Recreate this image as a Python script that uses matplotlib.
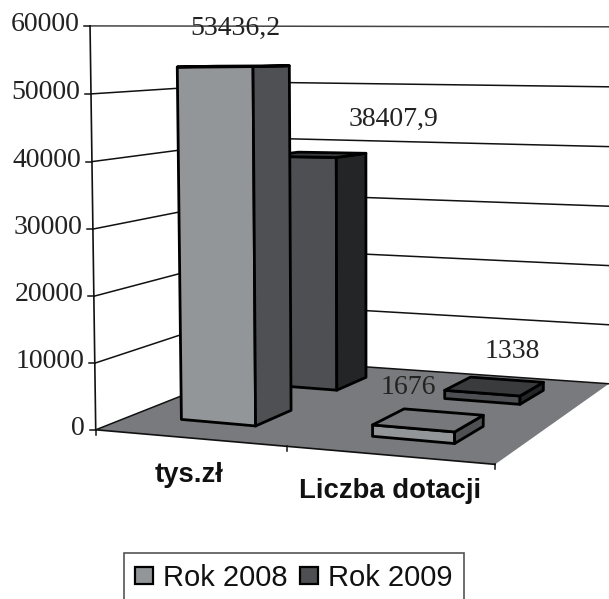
import numpy as np
import matplotlib
matplotlib.use("Agg")
import matplotlib.pyplot as plt
from matplotlib.patches import Polygon

# ---- data ----
categories = ["tys.zł", "Liczba dotacji"]
series_names = ["Rok 2008", "Rok 2009"]
values_2008 = [53436.2, 1676]
values_2009 = [38407.9, 1338]
labels_2008 = ["53436,2", "1676"]
labels_2009 = ["38407,9", "1338"]
y_ticks = [0, 10000, 20000, 30000, 40000, 50000, 60000]
y_max = 60000

# ---- cameras: (across, depth, value) -> pixel, fitted by least squares ----
wall_refs = [
    (0, 0, 0, 97, 429), (1, 0, 0, 497, 463), (0, 1, 0, 270, 360), (1, 1, 0, 609, 385),
    (0, 0, 60000, 89.5, 27), (0, 1, 60000, 270, 27), (1, 1, 60000, 609, 27),
    (0, 0, 50000, 90, 94), (0, 1, 50000, 270, 81), (1, 1, 50000, 609, 85),
    (0, 0, 40000, 91, 162), (0, 1, 40000, 270, 137.5), (1, 1, 40000, 609, 146.7),
    (0, 0, 30000, 92.5, 229), (0, 1, 30000, 270, 194.4), (1, 1, 30000, 609, 207),
    (0, 0, 20000, 93.5, 297), (1, 1, 20000, 609, 266),
    (0, 0, 10000, 95, 363), (0, 1, 10000, 270, 305.4), (1, 1, 10000, 609, 325),
]
bar_refs = [
    (0.134, 0.165, 0, 182, 419.5), (0.334, 0.165, 0, 255.5, 425.7), (0.334, 0.365, 0, 291, 410.7),
    (0.334, 0.65, 0, 337, 390.5), (0.334, 0.85, 0, 366, 378),
    (0.634, 0.165, 0, 371, 436), (0.834, 0.165, 0, 456, 443.3), (0.834, 0.365, 0, 483, 426),
    (0.634, 0.65, 0, 445, 397), (0.834, 0.65, 0, 521, 404.5), (0.834, 0.85, 0, 542, 391),
    (0.134, 0.165, 53436, 177, 66), (0.334, 0.165, 53436, 253.5, 68), (0.334, 0.365, 53436, 288.5, 66),
    (0.334, 0.65, 38408, 337, 157), (0.334, 0.85, 38408, 366, 153),
    (0.634, 0.165, 1676, 371, 425), (0.834, 0.165, 1676, 456, 432.7), (0.834, 0.365, 1676, 483, 415),
]


def fit_camera(refs):
    A, b = [], []
    for u, d, val, px, py in refs:
        w = val / y_max
        A.append([u, d, w, 1, 0, 0, 0, 0, -px * u, -px * d, -px * w]); b.append(px)
        A.append([0, 0, 0, 0, u, d, w, 1, -py * u, -py * d, -py * w]); b.append(py)
    p = np.linalg.lstsq(np.array(A, float), np.array(b, float), rcond=None)[0]
    return np.append(p, 1).reshape(3, 4)


WALL_CAM = fit_camera(wall_refs)
BAR_CAM = fit_camera(bar_refs)


def project(u, d, val, cam=WALL_CAM):
    q = cam @ np.array([u, d, val / y_max, 1.0])
    return q[0] / q[2], q[1] / q[2]


# bar footprint on the floor
bar_left = [0.134, 0.634]
bar_width = 0.2
depth_front = {"Rok 2008": 0.165, "Rok 2009": 0.65}
bar_depth = 0.2

colors = {
    "Rok 2008": dict(front="#939699", side="#4f5053", top="#77787b"),
    "Rok 2009": dict(front="#4e4f52", side="#242526", top="#3a3b3d"),
}

fig = plt.figure(figsize=(6.09, 5.99), dpi=100)
ax = fig.add_axes([0, 0, 1, 1])
ax.set_xlim(0, 609)
ax.set_ylim(599, 0)
ax.axis("off")

SERIF = "Liberation Serif"
SANS = "Liberation Sans"
LINE = "#111111"

# floor
ax.add_patch(Polygon([project(0, 0, 0), project(1, 0, 0), project(1, 1, 0), project(0, 1, 0)],
                     closed=True, fc="#797a7d", ec="none", zorder=1))
ax.plot(*zip(project(0, 0, 0), project(1, 0, 0)), color=LINE, lw=1.2, zorder=2)

# gridlines on both walls, axis, ticks and tick labels
for t in y_ticks:
    pts = [project(0, 0, t), project(0, 1, t), project(1, 1, t)]
    ax.plot(*zip(*pts), color="#444444" if t == y_max else LINE, lw=1.1, zorder=2)
    x0, y0 = pts[0]
    ax.plot([x0 - 6, x0], [y0, y0], color=LINE, lw=1.1, zorder=2)
    ax.text(x0 - 10.5, y0 - 1.5, str(t), family=SERIF, fontsize=20, color="#222222",
            ha="right", va="center", zorder=6)
ax.plot(*zip(project(0, 0, 0), project(0, 0, y_max)), color=LINE, lw=1.2, zorder=2)

# category ticks
for u in [0, 0.5, 1]:
    x0, y0 = project(u, 0, 0)
    ax.plot([x0, x0], [y0, y0 + 5], color=LINE, lw=1.1, zorder=2)


def draw_bar(u0, d0, value, name, z):
    c = colors[name]
    u1, d1 = u0 + bar_width, d0 + bar_depth
    P = lambda u, d, v: project(u, d, v, BAR_CAM)
    faces = [
        ([P(u0, d0, 0), P(u1, d0, 0), P(u1, d0, value), P(u0, d0, value)], c["front"]),
        ([P(u1, d0, 0), P(u1, d1, 0), P(u1, d1, value), P(u1, d0, value)], c["side"]),
        ([P(u0, d0, value), P(u1, d0, value), P(u1, d1, value), P(u0, d1, value)], c["top"]),
    ]
    for pts, col in faces:
        ax.add_patch(Polygon(pts, closed=True, fc=col, ec="black", lw=2.0, joinstyle="round", zorder=z))


# back row first, so the front row hides it
for i in range(len(categories)):
    draw_bar(bar_left[i], depth_front["Rok 2009"], values_2009[i], "Rok 2009", 3)
for i in range(len(categories)):
    draw_bar(bar_left[i], depth_front["Rok 2008"], values_2008[i], "Rok 2008", 4)

# value labels
value_label_pos = {labels_2008[0]: (235, 28), labels_2009[0]: (393, 119),
                   labels_2008[1]: (408, 387), labels_2009[1]: (512, 351)}
for s, (x, y) in value_label_pos.items():
    ax.text(x, y, s, family=SERIF, fontsize=20, color="#222222", ha="center", va="center", zorder=6)

# category labels
for s, (x, y) in zip(categories, [(189, 475), (390, 491)]):
    ax.text(x, y, s, family=SANS, fontweight="bold", fontsize=19.8, color="#111111",
            ha="center", va="center", zorder=6)

# legend
handles = [Polygon([(0, 0), (1, 0), (1, 1), (0, 1)], closed=True, fc=colors[n]["front"],
                   ec="black", lw=1.6, label=n) for n in series_names]
leg = ax.legend(handles=handles, loc="upper left", bbox_to_anchor=(124 / 609, 1 - 553 / 599),
                borderaxespad=0, ncols=2, fancybox=False, framealpha=1, edgecolor="#555555",
                prop=dict(family=SANS, size=21), handlelength=0.62, handleheight=0.52,
                handletextpad=0.34, columnspacing=0.44, borderpad=0.37, labelcolor="#111111")
leg.get_frame().set_linewidth(1.2)

fig.savefig("out.png", dpi=100)
